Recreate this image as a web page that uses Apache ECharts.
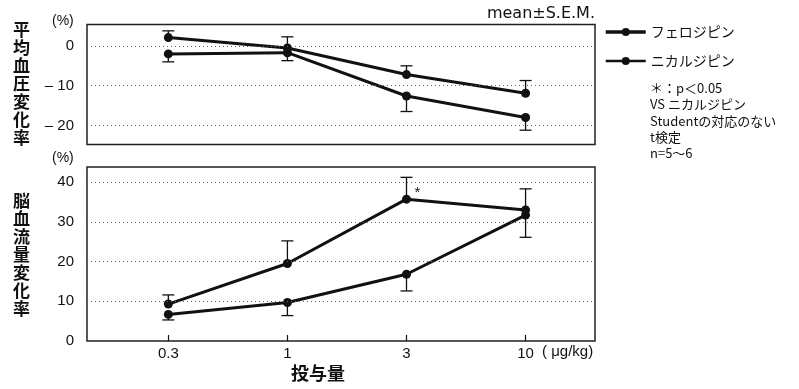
<!DOCTYPE html>
<html>
<head>
<meta charset="utf-8">
<script src="https://cdn.jsdelivr.net/npm/echarts@6/dist/echarts.min.js"></script>
<style>
  html, body { margin: 0; padding: 0; background: #fff; }
  #chart { width: 799px; height: 389px; }
</style>
</head>
<body>
<div id="chart"></div>
<script>
// Dose levels (μg/kg), evenly spaced on the x axis
const doseLabels = ['0.3', '1', '3', '10'];
const doseIndex = [0, 1, 2, 3];

// 平均血圧変化率 (%) — mean and S.E.M.
const feloBP = [-2.0, -1.7, -12.6, -18.0];
const feloBPSem = [2.0, 2.0, 3.9, 3.2];
const nicaBP = [2.1, -0.5, -7.2, -11.9];
const nicaBPSem = [1.7, 2.8, 2.2, 3.2];

// 脳血流量変化率 (%) — mean and S.E.M.
const feloCBF = [9.3, 19.5, 35.7, 33.0];
const feloCBFSem = [2.3, 5.7, 5.5, 5.3];
const nicaCBF = [6.7, 9.7, 16.8, 31.7];
const nicaCBFSem = [1.4, 3.3, 4.2, 5.6];

// Tick labels and grid levels for the two value axes
const bpTicks = [0, -10, -20];
const cbfTicks = [0, 10, 20, 30, 40];
const bpGridLines = [0, -10, -20];
const cbfGridLines = [10, 20, 30, 40];

const NAME_FELO = 'フェロジピン';
const NAME_NICA = 'ニカルジピン';
const FONT = "'Liberation Sans', sans-serif";
const WIDE = "'DejaVu Sans', sans-serif";
const JP = "'Noto Sans CJK JP', sans-serif";
const INK = '#111';

function pairs(ys) { return ys.map((y, i) => [doseIndex[i], y]); }

// One-sided error bars: dir = +1 draws upward, -1 downward
function errorBars(gridIdx, means, sems, dir) {
  return {
    type: 'custom',
    xAxisIndex: gridIdx,
    yAxisIndex: gridIdx,
    z: 1,
    silent: true,
    data: means.map((m, i) => [doseIndex[i], m, sems[i]]),
    renderItem: function (params, api) {
      const x = api.value(0), y = api.value(1), e = api.value(2);
      const p0 = api.coord([x, y]);
      const p1 = api.coord([x, y + dir * e]);
      const cap = 6;
      const st = { stroke: INK, lineWidth: 1.3 };
      return {
        type: 'group',
        children: [
          { type: 'line', shape: { x1: p0[0], y1: p0[1], x2: p1[0], y2: p1[1] }, style: st },
          { type: 'line', shape: { x1: p1[0] - cap, y1: p1[1], x2: p1[0] + cap, y2: p1[1] }, style: st }
        ]
      };
    }
  };
}

function meanLine(name, gridIdx, ys, extra) {
  return Object.assign({
    name: name,
    type: 'line',
    xAxisIndex: gridIdx,
    yAxisIndex: gridIdx,
    z: 3,
    symbol: 'circle',
    symbolSize: 9,
    showSymbol: true,
    itemStyle: { color: INK },
    lineStyle: { color: INK, width: 3 },
    data: pairs(ys)
  }, extra || {});
}

function gridMarks(levels) {
  return {
    silent: true,
    symbol: 'none',
    label: { show: false },
    lineStyle: { color: '#666', width: 1, type: [1, 3] },
    data: levels.map(v => ({ yAxis: v }))
  };
}

function txt(text, size, family, weight, extra) {
  return Object.assign({ text: text, fontSize: size, fontFamily: family, fontWeight: weight || 'normal', fill: INK }, extra || {});
}

const chart = echarts.init(document.getElementById('chart'), null, { renderer: 'canvas' });

const xBase = {
  type: 'value',
  min: -0.683,
  max: 3.583,
  splitLine: { show: false },
  axisLine: { show: false }
};

chart.setOption({
  backgroundColor: '#fff',
  animation: false,
  textStyle: { fontFamily: FONT },
  grid: [
    { left: 87, right: 204, top: 24.5, height: 120, show: true, borderColor: '#222', borderWidth: 1.5, backgroundColor: 'transparent' },
    { left: 87, right: 204, top: 167, height: 174, show: true, borderColor: '#222', borderWidth: 1.5, backgroundColor: 'transparent' }
  ],
  xAxis: [
    Object.assign({}, xBase, {
      gridIndex: 0,
      axisTick: { show: false },
      axisLabel: { show: false }
    }),
    Object.assign({}, xBase, {
      gridIndex: 1,
      axisTick: { show: true, inside: true, length: 6, lineStyle: { color: INK, width: 1.2 }, customValues: doseIndex },
      axisLabel: {
        show: true,
        customValues: doseIndex,
        formatter: v => doseLabels[Math.round(v)] || '',
        color: INK, fontSize: 15, margin: 5, fontFamily: FONT
      }
    })
  ],
  yAxis: [
    {
      type: 'value', gridIndex: 0, min: -24.8, max: 5.4,
      splitLine: { show: false }, axisLine: { show: false }, axisTick: { show: false },
      axisLabel: { customValues: bpTicks, formatter: v => (v < 0 ? '– ' + Math.abs(v) : String(v)), color: INK, fontSize: 15, margin: 13, fontFamily: FONT }
    },
    {
      type: 'value', gridIndex: 1, min: 0, max: 43.8,
      splitLine: { show: false }, axisLine: { show: false }, axisTick: { show: false },
      axisLabel: { customValues: cbfTicks, formatter: v => String(v), color: INK, fontSize: 15, margin: 13, fontFamily: FONT }
    }
  ],
  legend: {
    orient: 'vertical',
    left: 604,
    top: 25,
    padding: 0,
    itemWidth: 40,
    itemHeight: 10,
    itemGap: 15,
    textStyle: { fontFamily: JP, fontSize: 14, color: INK },
    data: [
      { name: NAME_FELO, lineStyle: { width: 3.5, color: INK }, itemStyle: { color: INK } },
      { name: NAME_NICA, lineStyle: { width: 2.5, color: INK }, itemStyle: { color: INK } }
    ]
  },
  series: [
    errorBars(0, feloBP, feloBPSem, -1),
    errorBars(0, nicaBP, nicaBPSem, +1),
    errorBars(1, feloCBF, feloCBFSem, +1),
    errorBars(1, nicaCBF, nicaCBFSem, -1),
    meanLine(NAME_FELO, 0, feloBP, { markLine: gridMarks(bpGridLines) }),
    meanLine(NAME_NICA, 0, nicaBP),
    meanLine(NAME_FELO, 1, feloCBF, {
      markLine: gridMarks(cbfGridLines),
      data: pairs(feloCBF).map((p, i) => i === 2
        ? { value: p, label: { show: true, formatter: '*', position: 'inside', offset: [11, -6], fontSize: 15, color: INK } }
        : { value: p })
    }),
    meanLine(NAME_NICA, 1, nicaCBF)
  ],
  graphic: [
    { type: 'text', left: 52, top: 14, style: txt('(%)', 14, FONT) },
    { type: 'text', left: 52, top: 151, style: txt('(%)', 14, FONT) },
    { type: 'text', right: 204, top: 6, style: txt('mean±S.E.M.', 16, WIDE) },
    { type: 'text', left: 13, top: 21, style: txt('平\n均\n血\n圧\n変\n化\n率', 17, JP, 'bold', { lineHeight: 18 }) },
    { type: 'text', left: 13, top: 192, style: txt('脳\n血\n流\n量\n変\n化\n率', 17, JP, 'bold', { lineHeight: 18 }) },
    { type: 'text', left: 542, top: 344, style: txt('( μg/kg)', 15, FONT) },
    { type: 'text', left: 291, top: 364, style: txt('投与量', 18, JP, 'bold') },
    { type: 'text', left: 650, top: 80, style: txt('＊：p＜0.05\nVS ニカルジピン\nStudentの対応のない\nt検定\nn=5〜6', 13, JP, 'normal', { lineHeight: 16.3 }) }
  ]
});
</script>
</body>
</html>
